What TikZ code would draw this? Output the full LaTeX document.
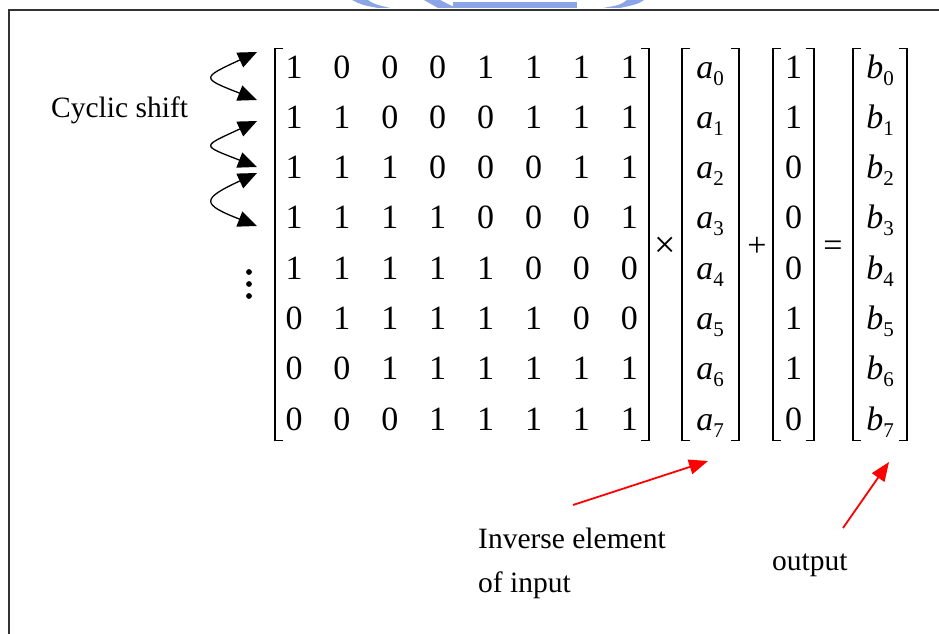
\documentclass[tikz,border=0pt]{standalone}
\usepackage{fontspec}
\setmainfont{Liberation Serif}
\usetikzlibrary{arrows.meta}
\definecolor{wmblue}{RGB}{140,165,230}
\definecolor{framegray}{RGB}{50,50,50}
\newcommand{\subidx}[1]{\raisebox{-7pt}{\fontsize{21}{21}\selectfont #1}}
\begin{document}
\begin{tikzpicture}[x=1pt,y=-1pt,
  entry/.style={inner sep=0pt, anchor=base, font=\fontsize{34}{40}\selectfont},
  textlabel/.style={inner sep=0pt, anchor=base west, font=\fontsize{29.5}{35}\selectfont},
  stem/.style={line width=2.2pt},
  serif/.style={line width=1.2pt},
  dotmark/.style={circle, fill, inner sep=0pt, minimum size=5.8pt},
  shiftarrow/.style={line width=1.3pt,
    {Triangle[length=19pt,width=16pt]}-{Triangle[length=19pt,width=16pt]}},
  pointer/.style={red, line width=1.8pt, -{Triangle[length=19pt,width=15pt]}}]
\useasboundingbox (0,0) rectangle (939,634);

% watermark remnants above the frame
\begin{scope}[wmblue]
  \fill (352,0) -- (368,0) .. controls (374,4) .. (390,8) -- (378,8) .. controls (362,5) .. cycle;
  \fill (424,0) -- (440,0) -- (456,8) -- (438,8) -- cycle;
  \fill (453,2.5) rectangle (577,8);
  \fill (627,0) -- (644,0) .. controls (638,4) .. (620,8) -- (603,8) .. controls (620,5) .. cycle;
\end{scope}

% frame
\draw[framegray, line width=2.2pt] (9,634) -- (9,10) -- (939,10);

% brackets: left stem / right stem
\foreach \xl/\xr in {275/649, 682/739, 773/814, 853/907} {
  \draw[stem] (\xl,48) -- (\xl,441);
  \draw[serif] (\xl-1.1,48.6) -- (\xl+8,48.6);
  \draw[serif] (\xl-1.1,440.4) -- (\xl+8,440.4);
  \draw[stem] (\xr,48) -- (\xr,441);
  \draw[serif] (\xr+1.1,48.6) -- (\xr-8,48.6);
  \draw[serif] (\xr+1.1,440.4) -- (\xr-8,440.4);
}

% coefficient matrix
\foreach \row [count=\i from 0] in {{1,0,0,0,1,1,1,1},{1,1,0,0,0,1,1,1},{1,1,1,0,0,0,1,1},{1,1,1,1,0,0,0,1},{1,1,1,1,1,0,0,0},{0,1,1,1,1,1,0,0},{0,0,1,1,1,1,1,1},{0,0,0,1,1,1,1,1}} {
  \foreach \v [count=\j from 0] in \row {
    \node[entry] (m\i\j) at ({294+47.9*\j},{78+50.3*\i}) {\v};
  }
}

% vectors
\foreach \c [count=\i from 0] in {1,1,0,0,0,1,1,0} {
  \node[entry] (a\i) at (710,{78+50.3*\i}) {\textit{a}\subidx{\i}};
  \node[entry] (c\i) at (793.5,{78+50.3*\i}) {\c};
  \node[entry] (b\i) at (880,{78+50.3*\i}) {\textit{b}\subidx{\i}};
}

% operators
\node[entry, font=\fontsize{38}{40}\selectfont] (times) at (665,257) {×};
\node[entry] (plus) at (757,256) {+};
\node[entry] (eq) at (833,256) {=};

% labels
\node[textlabel] (cyc) at (51,117) {Cyclic shift};
\node[textlabel] (inv1) at (478,548) {Inverse element};
\node[textlabel] (inv2) at (478,592) {of input};
\node[textlabel] (out) at (772,570) {output};

% cyclic shift arrows
\coordinate (u1) at (257,52);  \coordinate (l1) at (257,100);
\coordinate (u2) at (257,121); \coordinate (l2) at (257,167);
\coordinate (u3) at (257,173); \coordinate (l3) at (257,226);
\foreach \k in {1,2,3} {
  \draw[shiftarrow] (u\k) .. controls +(-56,26) and +(-56,-22) .. (l\k);
}

% vertical ellipsis
\node[dotmark] (d1) at (249,272) {};
\node[dotmark] (d2) at (249,284) {};
\node[dotmark] (d3) at (249,296) {};

% red pointers
\coordinate (p1) at (573,505); \coordinate (q1) at (708,461);
\coordinate (p2) at (843,528); \coordinate (q2) at (889,462);
\draw[pointer] (p1) -- (q1);
\draw[pointer] (p2) -- (q2);
\end{tikzpicture}
\end{document}
